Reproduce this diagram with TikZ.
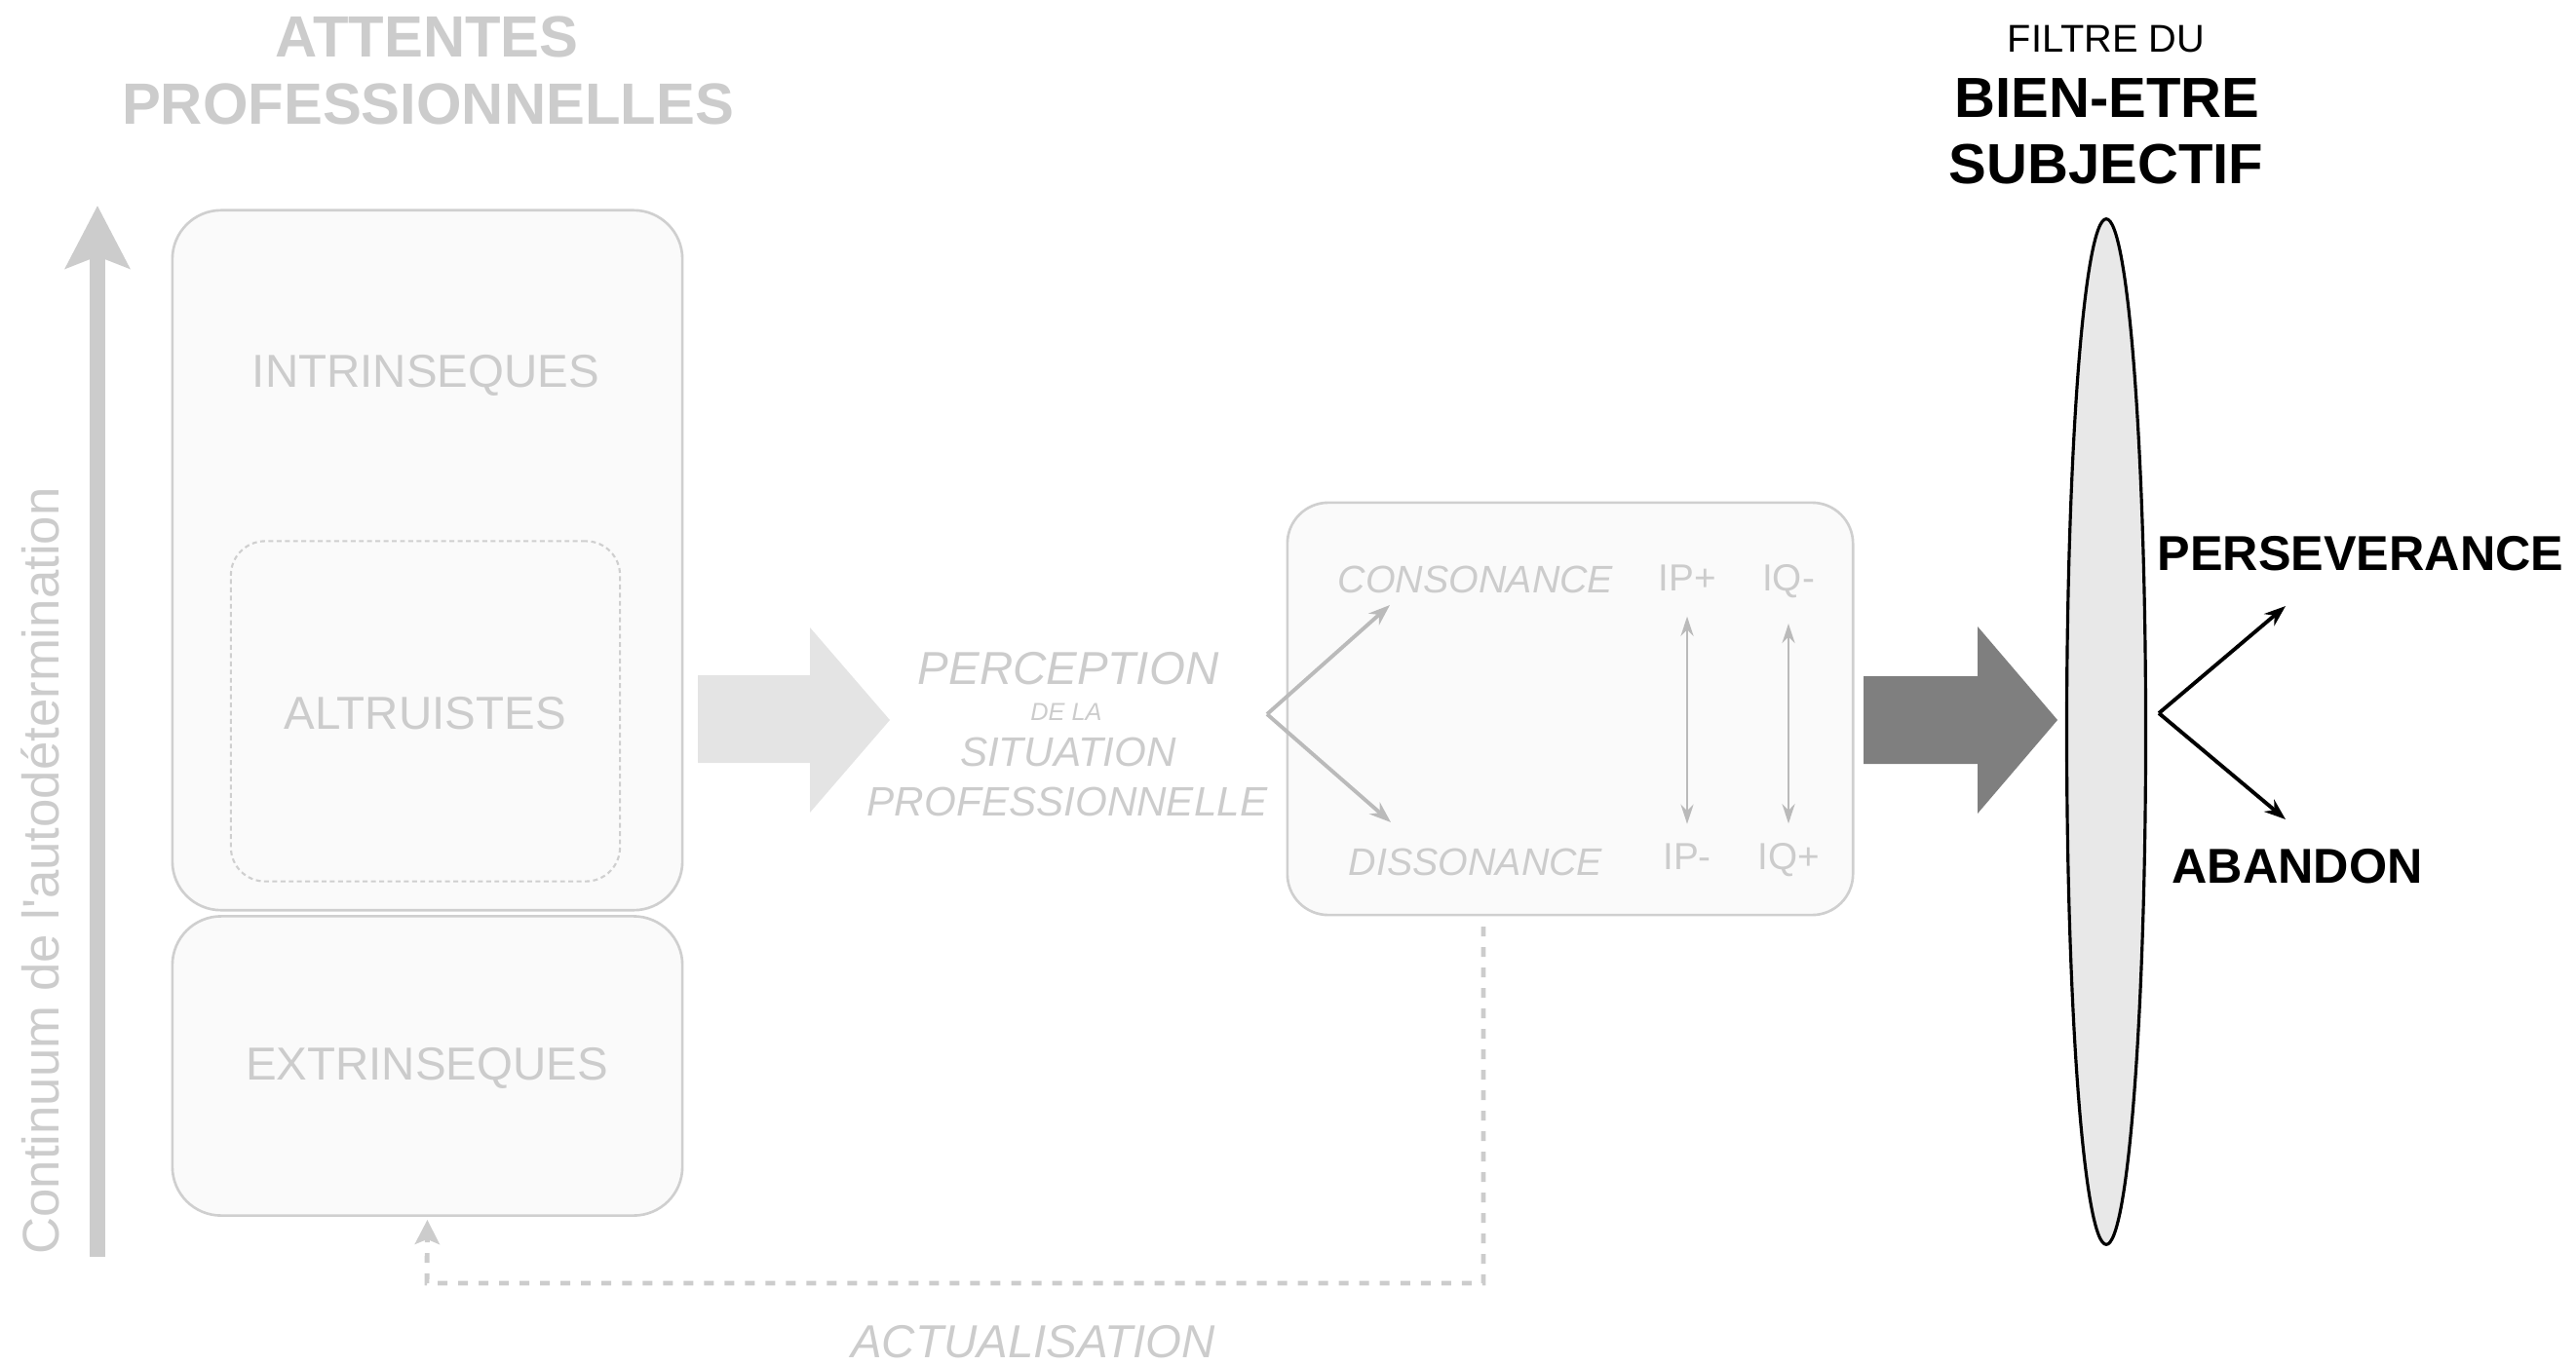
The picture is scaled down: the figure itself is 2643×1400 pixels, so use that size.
\documentclass[tikz,border=0pt]{standalone}
\usepackage{fontspec}
\setmainfont{Liberation Sans}
\usetikzlibrary{arrows.meta, positioning, shapes.geometric}

\definecolor{paleline}{HTML}{CFCFCF}
\definecolor{palefill}{HTML}{FAFAFA}
\definecolor{paletext}{HTML}{CCCCCC}
\definecolor{palearrow}{HTML}{E4E4E4}
\definecolor{darkarrow}{HTML}{7F7F7F}
\definecolor{lensfill}{HTML}{E8E8E8}

\begin{document}
\begin{tikzpicture}[x=0.01cm, y=-0.01cm,
    box/.style={draw=paleline, fill=palefill, line width=0.75pt, rounded corners=0.5cm, inner sep=0pt},
    subbox/.style={draw=paleline, line width=0.6pt, dash pattern=on 1.4pt off 1pt, rounded corners=0.35cm, inner sep=0pt},
    lbl/.style={inner sep=0pt, anchor=base, text=paletext},
    heading/.style={lbl, font=\fontsize{17}{20}\selectfont\bfseries},
    kind/.style={lbl, font=\fontsize{13.5}{16}\selectfont},
    percep/.style={lbl, font=\fontsize{12}{14}\selectfont\itshape},
    state/.style={lbl, font=\fontsize{11.2}{13}\selectfont\itshape},
    idx/.style={lbl, font=\fontsize{11}{13}\selectfont},
    outcome/.style={inner sep=0pt, anchor=base, font=\fontsize{14.3}{17}\selectfont\bfseries},
    softfork/.style={draw=paleline!90!black, line width=1.1pt, -{Stealth[length=0.22cm, width=0.16cm]}},
    darkfork/.style={draw=black, line width=1.1pt, -{Stealth[length=0.22cm, width=0.16cm]}},
    swing/.style={draw=paleline!90!black, line width=0.8pt, {Stealth[length=0.2cm, width=0.13cm]}-{Stealth[length=0.2cm, width=0.13cm]}},
    ]
    \useasboundingbox (0,0) rectangle (2643,1400);

    % axis of self-determination (left)
    \coordinate (axbot) at (100,1290);
    \coordinate (axtop) at (100,211);
    \draw[paletext, line width=0.16cm, -{Stealth[length=0.64cm, width=0.65cm, inset=0.12cm]}] (axbot) -- (axtop);
    \node[lbl, rotate=90, font=\fontsize{15}{18}\selectfont] (axis) at (60,894) {Continuum de l\textquotesingle autodétermination};

    % professional expectations
    \node[heading] (att1) at (438,59) {ATTENTES};
    \node[heading] (att2) at (439,128) {PROFESSIONNELLES};
    \node[box, minimum width=5.23cm, minimum height=7.18cm] (intr) at (438.5,575) {};
    \node[kind] (intrl) at (437,397) {INTRINSEQUES};
    \node[subbox, minimum width=3.99cm, minimum height=3.49cm] (altr) at (436.5,730) {};
    \node[kind] (altrl) at (436,748) {ALTRUISTES};
    \node[box, minimum width=5.23cm, minimum height=3.07cm] (extr) at (438.5,1094) {};
    \node[kind] (extrl) at (438,1108) {EXTRINSEQUES};

    % light block arrow
    \fill[palearrow] (716,693) -- (831,693) -- (831,644) -- (913,739) -- (831,834) -- (831,783) -- (716,783) -- cycle;

    % perception of the situation
    \node[lbl, font=\fontsize{13.5}{16}\selectfont\itshape] (perc1) at (1096,702) {PERCEPTION};
    \node[lbl, font=\fontsize{7.2}{9}\selectfont\itshape] (perc2) at (1094,739) {DE LA};
    \node[percep] (perc3) at (1096,786) {SITUATION};
    \node[percep] (perc4) at (1095,837) {PROFESSIONNELLE};

    % consonance / dissonance
    \node[box, rounded corners=0.42cm, minimum width=5.8cm, minimum height=4.23cm] (cons) at (1611,727.5) {};
    \node[state] (consl) at (1514,608) {CONSONANCE};
    \node[state] (disl) at (1514,898) {DISSONANCE};
    \node[idx] (ipp) at (1731,606) {IP+};
    \node[idx] (iqm) at (1835,606) {IQ-};
    \node[idx] (ipm) at (1731,892) {IP-};
    \node[idx] (iqp) at (1835,892) {IQ+};
    \coordinate (split) at (1300,733);
    \coordinate (uptip) at (1426,621);
    \coordinate (downtip) at (1427,844);
    \draw[softfork] (split) -- (uptip);
    \draw[softfork] (split) -- (downtip);
    \draw[swing, shorten <=0.26cm, shorten >=0.19cm] (ipp) -- (ipm);
    \draw[swing, shorten <=0.26cm, shorten >=0.19cm] (iqm) -- (iqp);

    % feedback loop
    \coordinate (fbstart) at (1522,951);
    \coordinate (fbcorner) at (438,1317);
    \draw[paletext, line width=1.4pt, dash pattern=on 0.1cm off 0.11cm, -{Stealth[length=0.25cm, width=0.25cm, inset=0.05cm]}, shorten >=0.03cm] (fbstart) |- (fbcorner) -- (extr.south);
    \node[lbl, font=\fontsize{13.5}{16}\selectfont\itshape] (actu) at (1060,1393) {ACTUALISATION};

    % dark block arrow
    \fill[darkarrow] (1912,694) -- (2029,694) -- (2029,643) -- (2111,739) -- (2029,835) -- (2029,784) -- (1912,784) -- cycle;

    % subjective well-being filter
    \node[ellipse, draw=black, fill=lensfill, line width=0.9pt, minimum width=0.81cm, minimum height=10.52cm, inner sep=0pt] (lens) at (2161,751) {};
    \node[inner sep=0pt, anchor=base, font=\fontsize{11.3}{13}\selectfont] (fil1) at (2161,54) {FILTRE DU};
    \node[outcome, font=\fontsize{16.5}{19}\selectfont\bfseries] (fil2) at (2162,121) {BIEN-ETRE};
    \node[outcome, font=\fontsize{16.5}{19}\selectfont\bfseries] (fil3) at (2161,189) {SUBJECTIF};

    % outcomes
    \node[outcome] (pers) at (2422,585) {PERSEVERANCE};
    \node[outcome] (aban) at (2357,906) {ABANDON};
    \coordinate (exit) at (2215,732);
    \coordinate (pertip) at (2345,622);
    \coordinate (abatip) at (2345,841);
    \draw[darkfork] (exit) -- (pertip);
    \draw[darkfork] (exit) -- (abatip);
\end{tikzpicture}
\end{document}
